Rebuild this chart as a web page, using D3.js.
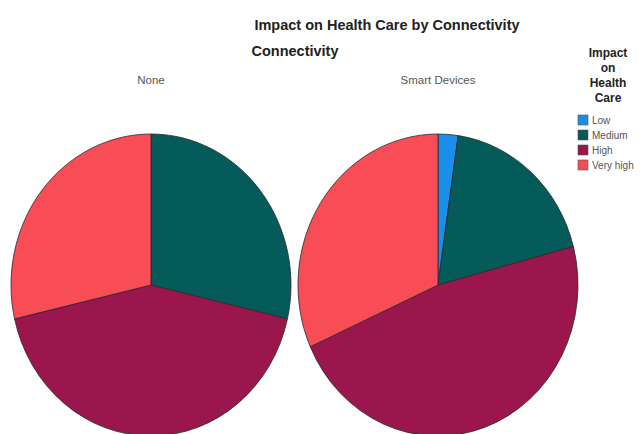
<!DOCTYPE html>
<html>
<head>
<meta charset="utf-8">
<script src="https://cdn.jsdelivr.net/npm/d3@7"></script>
<style>
	body { margin: 0; background: white; }
	svg { display: block; font-family: Arial, "Liberation Sans", sans-serif; }
</style>
</head>
<body>
<div id="chart"></div>
<script>
// Data (percent of each panel).
const levels = ["Low", "Medium", "High", "Very high"];
const colors = ["#1a8ee8", "#045b59", "#9b164c", "#f84d56"];
const panels = ["None", "Smart Devices"];
const noneValues = [0, 28.6, 42.8, 28.6];
const smartValues = [2.3, 18.6, 47.4, 31.7];

const width = 643, height = 434;

let svg = d3.select("#chart").append("svg")
	.attr("width", width)
	.attr("height", height);

// Titles.
svg.append("text")
	.attr("x", 387).attr("y", 30)
	.attr("text-anchor", "middle")
	.attr("font-size", 14.5).attr("font-weight", "bold")
	.attr("fill", "#222")
	.text("Impact on Health Care by Connectivity");

svg.append("text")
	.attr("x", 295).attr("y", 56)
	.attr("text-anchor", "middle")
	.attr("font-size", 14.5).attr("font-weight", "bold")
	.attr("fill", "#222")
	.text("Connectivity");

// Panel positions along x.
let xpanel = d3.scalePoint().domain(panels).range([151, 438]);
let color = d3.scaleOrdinal().domain(levels).range(colors);

let rx = 140, ry = 151, cy = 285;

let pie = d3.pie().sort(null).value(d=>d.value);
let arc = d3.arc().innerRadius(0).outerRadius(rx);

[noneValues, smartValues].forEach((values, i)=>{
	let name = panels[i];
	let data = levels.map((l, j)=>({level: l, value: values[j]}));

	svg.append("text")
		.attr("x", xpanel(name)).attr("y", 84)
		.attr("text-anchor", "middle")
		.attr("font-size", 11.5)
		.attr("fill", "#555")
		.text(name);

	let g = svg.append("g")
		.attr("transform", `translate(${xpanel(name)},${cy}) scale(1,${ry/rx})`);

	g.selectAll("path")
		.data(pie(data).filter(d=>d.data.value > 0))
		.enter()
		.append("path")
			.attr("d", arc)
			.attr("fill", d=>color(d.data.level))
			.attr("stroke", "#2a2a2a")
			.attr("stroke-width", 0.8)
			.attr("vector-effect", "non-scaling-stroke");
});

// Legend.
let legend = svg.append("g").attr("transform", "translate(578,0)");

legend.selectAll("text.title")
	.data(["Impact", "on", "Health", "Care"])
	.enter()
	.append("text")
		.attr("class", "title")
		.attr("x", 30)
		.attr("y", (d, i)=>57 + i*15)
		.attr("text-anchor", "middle")
		.attr("font-size", 12).attr("font-weight", "bold")
		.attr("fill", "#222")
		.text(d=>d);

let items = legend.selectAll("g.item")
	.data(levels)
	.enter()
	.append("g")
		.attr("class", "item")
		.attr("transform", (d, i)=>`translate(0,${115 + i*15})`);

items.append("rect")
	.attr("width", 10).attr("height", 10)
	.attr("fill", d=>color(d))
	.attr("stroke", "#555").attr("stroke-width", 0.6);

items.append("text")
	.attr("x", 14).attr("y", 9)
	.attr("font-size", 10)
	.attr("fill", "#555")
	.text(d=>d);
</script>
</body>
</html>
